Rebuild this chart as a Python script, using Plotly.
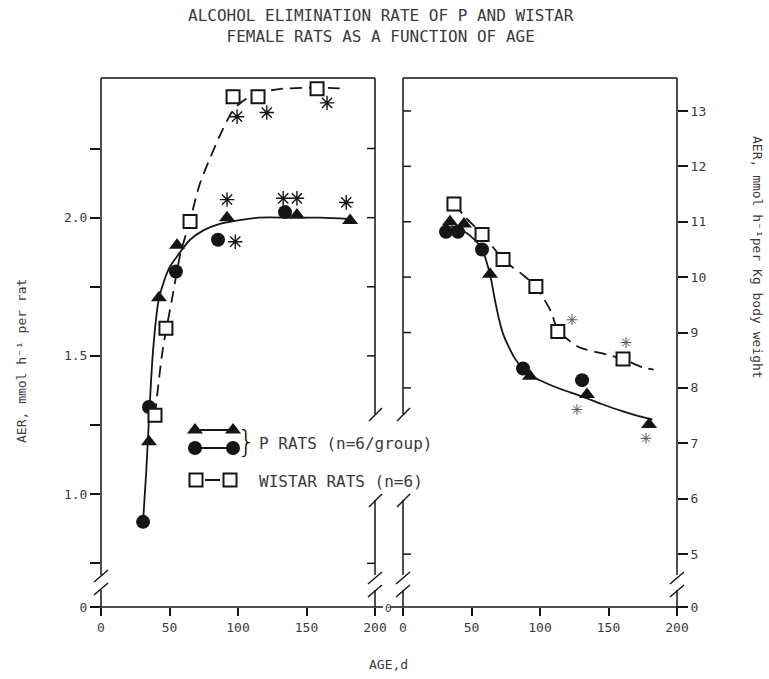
import plotly.graph_objects as go

W, H = 769, 679
FONT = "DejaVu Sans Mono"
INK = "#151515"
TXT = "#3a3a3a"

# ---------------- data: left panel (AER, mmol/h per rat) ----------------
p_tri_age_l = [35, 42.3, 55.5, 92, 143, 181.8]
p_tri_aer_l = [1.19, 1.71, 1.90, 2.00, 2.01, 1.99]
p_cir_age_l = [30.7, 35, 54.7, 85.4, 134.3]
p_cir_aer_l = [0.90, 1.315, 1.805, 1.92, 2.02]
w_sq_age_l = [39.4, 47.4, 65, 96.4, 114.6, 157.7]
w_sq_aer_l = [1.285, 1.60, 1.986, 2.437, 2.437, 2.466]
star_age_l = [99.3, 121, 165, 92, 133, 143, 179, 98]
star_aer_l = [2.365, 2.38, 2.415, 2.065, 2.07, 2.07, 2.055, 1.913]
p_fit_age_l = [30.7, 33, 35, 38, 42, 46, 50, 57, 65, 75, 85, 100, 115, 140, 160, 182]
p_fit_aer_l = [0.90, 1.08, 1.27, 1.52, 1.70, 1.77, 1.82, 1.87, 1.92, 1.955, 1.975, 1.99, 2.0, 2.0, 2.0, 1.995]
w_fit_age_l = [39.4, 45, 52, 58, 65, 72, 80, 88, 96, 103, 115, 130, 157, 179]
w_fit_aer_l = [1.285, 1.52, 1.71, 1.87, 1.99, 2.12, 2.22, 2.31, 2.385, 2.42, 2.45, 2.465, 2.47, 2.466]

# ---------------- data: right panel (AER, mmol/h per kg) ----------------
p_tri_age_r = [34.3, 44.5, 63.5, 92.7, 134.3, 179.6]
p_tri_aer_r = [11.0, 10.96, 10.05, 8.21, 7.88, 7.34]
p_cir_age_r = [31.4, 40.1, 57.7, 87.6, 130.7]
p_cir_aer_r = [10.82, 10.82, 10.5, 8.35, 8.14]
w_sq_age_r = [37.2, 57.7, 73, 97, 113, 160.6]
w_sq_aer_r = [11.32, 10.77, 10.32, 9.83, 9.02, 8.52]
star_age_r = [123.4, 162.8, 127, 177.4]
star_aer_r = [9.23, 8.82, 7.61, 7.09]
p_fit_age_r = [35, 45, 52, 57.7, 63.5, 67, 70, 73, 77, 82, 88, 95, 105, 115, 130, 145, 160, 172, 182]
p_fit_aer_r = [10.92, 10.82, 10.68, 10.5, 10.05, 9.6, 9.25, 8.98, 8.75, 8.52, 8.33, 8.2, 8.08, 7.98, 7.85, 7.71, 7.58, 7.49, 7.43]
w_fit_age_r = [37.2, 45, 57.7, 66, 73, 80, 87, 97, 103, 108, 113, 122, 129, 149, 160.6, 175, 183]
w_fit_aer_r = [11.32, 11.1, 10.77, 10.53, 10.32, 10.18, 10.05, 9.83, 9.6, 9.38, 9.05, 8.84, 8.73, 8.6, 8.52, 8.37, 8.33]

# ticks
x_ticks = [0, 50, 100, 150, 200]
yl_zero = 0.592  # position of the broken-axis "0"
yl_ticks = [yl_zero, 1.0, 1.5, 2.0]
yl_text = ["0", "1.0", "1.5", "2.0"]
yl_minor = [0.75, 1.25, 1.75, 2.25]
yl_inner = [0.75, 1.5, 1.75, 2.0, 2.25]
yr_zero = 4.045
yr_ticks = [yr_zero, 5, 6, 7, 8, 9, 10, 11, 12, 13]
yr_text = ["0", "5", "6", "7", "8", "9", "10", "11", "12", "13"]
yr_inner = [5, 8, 9, 10, 11, 12, 13]

# ---------------- layout geometry (pixels) ----------------
LX0, LX1, RX0, RX1, TOP, BOT = 101, 375, 403, 677, 78, 607


def X(px):
    return px / W


def Y(py):
    return 1 - py / H


fig = go.Figure()


def add_panel(xa, ya, tri_x, tri_y, cir_x, cir_y, sq_x, sq_y, st_x, st_y,
              pf_x, pf_y, wf_x, wf_y, star_size, star_w, star_col):
    fig.add_trace(go.Scatter(x=pf_x, y=pf_y, mode="lines", xaxis=xa, yaxis=ya,
                             line=dict(color=INK, width=1.8, shape="spline", smoothing=0.8),
                             showlegend=False, hoverinfo="skip"))
    fig.add_trace(go.Scatter(x=wf_x, y=wf_y, mode="lines", xaxis=xa, yaxis=ya,
                             line=dict(color=INK, width=1.8, dash="12px,7px", shape="spline", smoothing=0.8),
                             showlegend=False, hoverinfo="skip"))
    fig.add_trace(go.Scatter(x=tri_x, y=tri_y, mode="markers", xaxis=xa, yaxis=ya,
                             marker=dict(symbol="triangle-up", size=14, color=INK),
                             showlegend=False))
    fig.add_trace(go.Scatter(x=cir_x, y=cir_y, mode="markers", xaxis=xa, yaxis=ya,
                             marker=dict(symbol="circle", size=14, color=INK),
                             showlegend=False))
    fig.add_trace(go.Scatter(x=sq_x, y=sq_y, mode="markers", xaxis=xa, yaxis=ya,
                             marker=dict(symbol="square", size=13, color="white",
                                         line=dict(color=INK, width=2)),
                             showlegend=False))
    fig.add_trace(go.Scatter(x=st_x, y=st_y, mode="markers", xaxis=xa, yaxis=ya,
                             marker=dict(symbol="asterisk-open", size=star_size, color=star_col,
                                         line=dict(color=star_col, width=star_w)),
                             showlegend=False))


add_panel("x", "y", p_tri_age_l, p_tri_aer_l, p_cir_age_l, p_cir_aer_l, w_sq_age_l, w_sq_aer_l,
          star_age_l, star_aer_l, p_fit_age_l, p_fit_aer_l, w_fit_age_l, w_fit_aer_l, 12, 1.4, INK)
add_panel("x2", "y2", p_tri_age_r, p_tri_aer_r, p_cir_age_r, p_cir_aer_r, w_sq_age_r, w_sq_aer_r,
          star_age_r, star_aer_r, p_fit_age_r, p_fit_aer_r, w_fit_age_r, w_fit_aer_r, 9, 1.0, "#555")

# ---------------- legend (pixel overlay) ----------------
LEG_X = [195, 233]
LEG_Y = {"tri": 430, "cir": 448, "sq": 480}
fig.add_trace(go.Scatter(x=LEG_X, y=[LEG_Y["tri"]] * 2, mode="lines+markers", xaxis="x3", yaxis="y3",
                         line=dict(color=INK, width=1.8),
                         marker=dict(symbol="triangle-up", size=14, color=INK),
                         showlegend=False, hoverinfo="skip"))
fig.add_trace(go.Scatter(x=LEG_X, y=[LEG_Y["cir"]] * 2, mode="lines+markers", xaxis="x3", yaxis="y3",
                         line=dict(color=INK, width=1.8),
                         marker=dict(symbol="circle", size=14, color=INK),
                         showlegend=False, hoverinfo="skip"))
fig.add_trace(go.Scatter(x=[205, 220], y=[LEG_Y["sq"]] * 2, mode="lines", xaxis="x3", yaxis="y3",
                         line=dict(color=INK, width=2), showlegend=False, hoverinfo="skip"))
fig.add_trace(go.Scatter(x=[196, 230], y=[LEG_Y["sq"]] * 2, mode="markers", xaxis="x3", yaxis="y3",
                         marker=dict(symbol="square", size=13, color="white", line=dict(color=INK, width=2)),
                         showlegend=False, hoverinfo="skip"))

# ---------------- frame lines with axis breaks ----------------
shapes = []


def seg(x0, y0, x1, y1, w=1.5):
    shapes.append(dict(type="line", xref="paper", yref="paper",
                       x0=X(x0), y0=Y(y0), x1=X(x1), y1=Y(y1),
                       line=dict(color=INK, width=w)))


# left panel
seg(LX0, TOP, LX1, TOP)
seg(LX0, TOP, LX0, 575); seg(LX0, 590, LX0, BOT)
seg(94, 582, 108, 570); seg(94, 595, 108, 583)
seg(LX1, TOP, LX1, 414); seg(369, 421, 382, 408)
seg(369, 507, 382, 494); seg(LX1, 500, LX1, 575)
seg(368, 584, 382, 572); seg(368, 597, 382, 585); seg(LX1, 590, LX1, BOT)
seg(93, BOT, 383, BOT)
# right panel
seg(RX0, TOP, RX1, TOP)
seg(RX0, TOP, RX0, 414); seg(397, 421, 410, 408)
seg(397, 507, 410, 494); seg(RX0, 500, RX0, 575)
seg(396, 584, 410, 572); seg(396, 597, 410, 585); seg(RX0, 590, RX0, BOT)
seg(RX1, TOP, RX1, 575); seg(670, 584, 684, 572); seg(670, 597, 684, 585); seg(RX1, 590, RX1, 612)
seg(390, BOT, 686, BOT)

# inner ticks (placed through the axes' own scales)
for v in yl_inner:
    shapes.append(dict(type="line", xref="x domain", yref="y", x0=1, x1=1 - 8 / (LX1 - LX0),
                       y0=v, y1=v, line=dict(color=INK, width=1.5)))
for v in yr_inner:
    shapes.append(dict(type="line", xref="x2 domain", yref="y2", x0=0, x1=8 / (RX1 - RX0),
                       y0=v, y1=v, line=dict(color=INK, width=1.5)))

# ---------------- annotations ----------------
ann = []


def text(px, py, s, size=13, angle=0, xanchor="center"):
    ann.append(dict(x=X(px), y=Y(py), xref="paper", yref="paper", text=s, showarrow=False,
                    textangle=angle, xanchor=xanchor, yanchor="middle",
                    font=dict(family=FONT, size=size, color=TXT)))


text(381, 26, "ALCOHOL ELIMINATION RATE OF P AND WISTAR<br>FEMALE RATS AS A FUNCTION OF AGE", 16)
text(389, 664, "AGE,d", 13)
text(21, 361, "AER, mmol h⁻¹ per rat", 13, -90)
text(758, 257, "AER, mmol h⁻¹per Kg body weight", 13, 90)
text(257, 443, "P RATS (n=6/group)", 16, xanchor="left")
text(257, 481, "WISTAR RATS (n=6)", 16, xanchor="left")
text(388, 608, "0", 11)
ann.append(dict(x=X(246), y=Y(441), xref="paper", yref="paper", text="}", showarrow=False,
                font=dict(family="DejaVu Sans", size=30, color=INK, weight=300),
                xanchor="center", yanchor="middle"))

tickfont = dict(family=FONT, size=13, color=TXT)
common_x = dict(range=[0, 200], tickvals=x_ticks, ticks="outside", ticklen=8, tickwidth=1.5,
                tickcolor=INK, showline=False, showgrid=False, zeroline=False, tickfont=tickfont,
                automargin=False)
ydom = [Y(BOT), Y(TOP)]

fig.update_layout(
    template="none",
    width=W, height=H, autosize=False,
    margin=dict(l=0, r=0, t=0, b=0, pad=0, autoexpand=False),
    paper_bgcolor="white", plot_bgcolor="rgba(0,0,0,0)",
    showlegend=False,
    xaxis=dict(domain=[X(LX0), X(LX1)], anchor="y", **common_x),
    xaxis2=dict(domain=[X(RX0), X(RX1)], anchor="y2", **common_x),
    yaxis=dict(domain=ydom, range=[yl_zero, 2.505], anchor="x", side="left", automargin=False,
               tickvals=yl_ticks, ticktext=yl_text, ticks="outside", ticklen=10, tickwidth=1.5,
               tickcolor=INK, showgrid=False, zeroline=False, showline=False, tickfont=tickfont,
               minor=dict(tickvals=yl_minor, ticks="outside", ticklen=10, tickwidth=1.5,
                          tickcolor=INK, showgrid=False)),
    yaxis2=dict(domain=ydom, range=[yr_zero, 13.595], anchor="x2", side="right", automargin=False,
                tickvals=yr_ticks, ticktext=yr_text, ticks="outside", ticklen=10, tickwidth=1.5,
                tickcolor=INK, showgrid=False, zeroline=False, showline=False, tickfont=tickfont),
    xaxis3=dict(domain=[0, 1], range=[0, W], anchor="y3", visible=False, fixedrange=True,
                automargin=False),
    yaxis3=dict(domain=[0, 1], range=[H, 0], anchor="x3", visible=False, fixedrange=True,
                automargin=False),
    shapes=shapes,
    annotations=ann,
)

fig.write_html("out.html", config={"displayModeBar": False},
               post_script="document.body.style.margin='0px';")
